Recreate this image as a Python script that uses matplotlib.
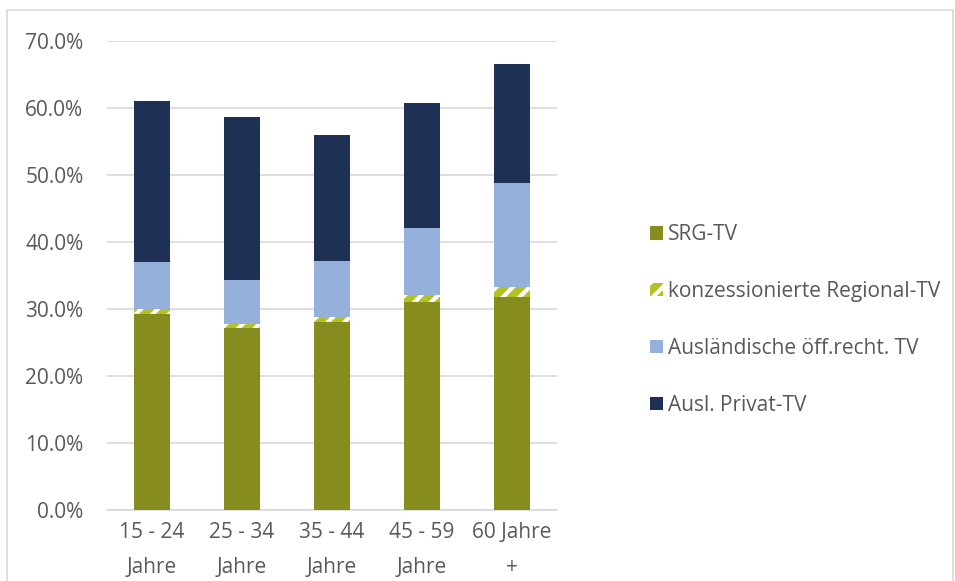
import numpy as np
import matplotlib
matplotlib.use("Agg")
import matplotlib.pyplot as plt
from matplotlib.patches import Patch, Rectangle
from matplotlib.ticker import PercentFormatter

plt.rcParams["font.family"] = ["Open Sans", "DejaVu Sans"]
plt.rcParams["hatch.linewidth"] = 3

# ---- data (shares of TV usage, %) ----
groups = ["15 - 24\nJahre", "25 - 34\nJahre", "35 - 44\nJahre", "45 - 59\nJahre", "60 Jahre\n+"]
srg = [29.2, 27.1, 28.1, 31.0, 31.8]
regional = [0.8, 0.6, 0.7, 1.1, 1.5]
ausl_oer = [7.0, 6.6, 8.4, 10.0, 15.5]
ausl_privat = [24.0, 24.4, 18.8, 18.6, 17.8]
labels = ["SRG-TV", "konzessionierte Regional-TV",
          "Ausländische öff.recht. TV", "Ausl. Privat-TV"]
colors = ["#878c1f", "#b2c224", "#95b0db", "#1f3055"]

fig = plt.figure(figsize=(9.55, 5.81), dpi=100)
# outer chart border
fig.add_artist(Rectangle((7 / 955, -0.05), 946 / 955, 1 - 10 / 581 + 0.05,
                         transform=fig.transFigure, fill=False,
                         edgecolor="#d9d9d9", linewidth=1.2))
ax = fig.add_axes([107 / 955, 1 - 510 / 581, 450 / 955, 469 / 581])

x = np.arange(len(groups))
w = 0.4
b0 = np.array(srg)
b1 = b0 + np.array(regional)
b2 = b1 + np.array(ausl_oer)
ax.bar(x, srg, w, color=colors[0], zorder=3)
ax.bar(x, regional, w, bottom=b0, color=colors[1], edgecolor="white",
       hatch="//", linewidth=0, zorder=3)
ax.bar(x, ausl_oer, w, bottom=b1, color=colors[2], zorder=3)
ax.bar(x, ausl_privat, w, bottom=b2, color=colors[3], zorder=3)

ax.set_xlim(-0.5, len(groups) - 0.5)
ax.set_ylim(0, 70)
ax.set_yticks(np.arange(0, 71, 10))
ax.yaxis.set_major_formatter(PercentFormatter(decimals=1))
ax.set_xticks(x)
ax.set_xticklabels(groups, linespacing=1.85)
ax.grid(axis="y", color="#d9d9d9", linewidth=1.2, zorder=0)
for s in ["top", "right", "left"]:
    ax.spines[s].set_visible(False)
ax.spines["bottom"].set_color("#d9d9d9")
ax.spines["bottom"].set_linewidth(1.2)
ax.tick_params(length=0, labelsize=15, colors="#595959", pad=9)
ax.tick_params(axis="y", pad=17)

handles = [Patch(facecolor=colors[0]),
           Patch(facecolor=colors[1], edgecolor="white", hatch="//", linewidth=0),
           Patch(facecolor=colors[2]),
           Patch(facecolor=colors[3])]
fig.legend(handles, labels, loc="center left", bbox_to_anchor=(631 / 955, 1 - 320 / 581),
           frameon=False, fontsize=15, labelcolor="#595959",
           handlelength=0.62, handleheight=0.62, handletextpad=0.24,
           labelspacing=1.72)

fig.savefig("out.png", dpi=100)
